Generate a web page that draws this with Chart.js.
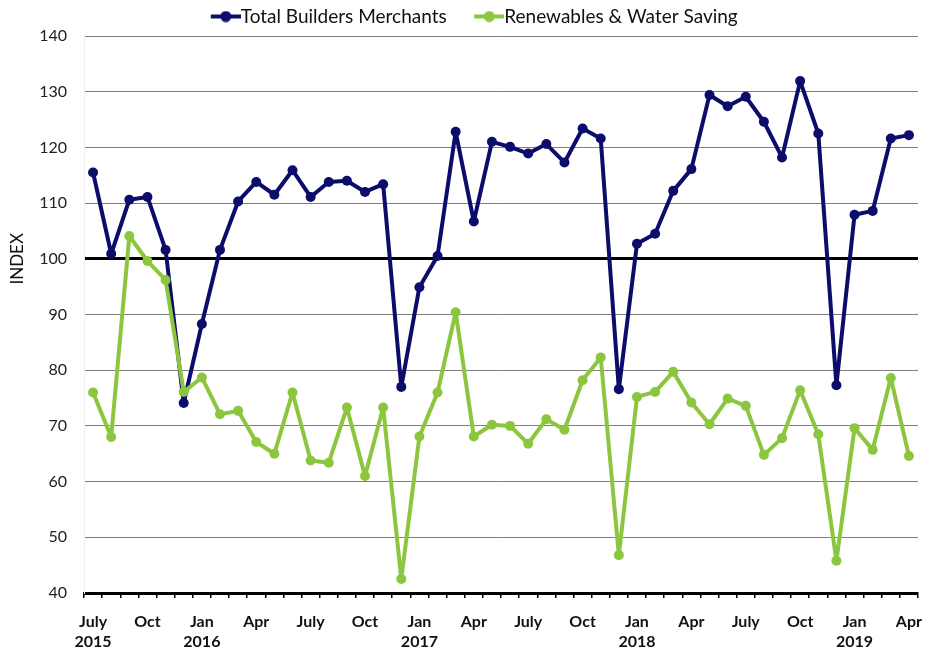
<!DOCTYPE html>
<html>
<head>
<meta charset="utf-8">
<script src="https://cdn.jsdelivr.net/npm/chart.js@4.4.1/dist/chart.umd.min.js"></script>
<style>
  html, body { margin: 0; padding: 0; background: #fff; }
  #wrap { width: 925px; height: 651px; }
</style>
</head>
<body>
<div id="wrap"><canvas id="chart"></canvas></div>
<script>
// month categories, July 2015 .. April 2019
const months = [
  'Jul 2015','Aug 2015','Sep 2015','Oct 2015','Nov 2015','Dec 2015',
  'Jan 2016','Feb 2016','Mar 2016','Apr 2016','May 2016','Jun 2016',
  'Jul 2016','Aug 2016','Sep 2016','Oct 2016','Nov 2016','Dec 2016',
  'Jan 2017','Feb 2017','Mar 2017','Apr 2017','May 2017','Jun 2017',
  'Jul 2017','Aug 2017','Sep 2017','Oct 2017','Nov 2017','Dec 2017',
  'Jan 2018','Feb 2018','Mar 2018','Apr 2018','May 2018','Jun 2018',
  'Jul 2018','Aug 2018','Sep 2018','Oct 2018','Nov 2018','Dec 2018',
  'Jan 2019','Feb 2019','Mar 2019','Apr 2019'
];

// what is printed under the axis (one entry per month)
const tickLabels = [
  ['July','2015'],'','','Oct','','',
  ['Jan','2016'],'','','Apr','','',
  'July','','','Oct','','',
  ['Jan','2017'],'','','Apr','','',
  'July','','','Oct','','',
  ['Jan','2018'],'','','Apr','','',
  'July','','','Oct','','',
  ['Jan','2019'],'','','Apr'
];

const totalBuilders = [
  115.5, 100.9, 110.6, 111.1, 101.6, 74.1,
  88.3, 101.6, 110.3, 113.8, 111.5, 115.9,
  111.1, 113.8, 114.0, 112.0, 113.4, 77.0,
  94.9, 100.5, 122.8, 106.7, 121.0, 120.1,
  118.9, 120.6, 117.3, 123.4, 121.6, 76.6,
  102.7, 104.5, 112.2, 116.1, 129.4, 127.4,
  129.1, 124.6, 118.2, 131.9, 122.5, 77.3,
  107.9, 108.6, 121.6, 122.2
];

const renewables = [
  76.0, 68.0, 104.1, 99.6, 96.2, 76.1,
  78.7, 72.1, 72.7, 67.1, 65.0, 76.0,
  63.8, 63.4, 73.3, 61.0, 73.3, 42.5,
  68.1, 76.0, 90.4, 68.1, 70.2, 70.0,
  66.8, 71.2, 69.3, 78.2, 82.3, 46.8,
  75.2, 76.1, 79.7, 74.2, 70.3, 74.9,
  73.6, 64.8, 67.8, 76.4, 68.5, 45.8,
  69.6, 65.7, 78.6, 64.6
];

const yTicks = [40, 50, 60, 70, 80, 90, 100, 110, 120, 130, 140];

const NAVY = '#0c0c6a';
const GREEN = '#8cc63f';
const FONT = 'Lato, "Liberation Sans", sans-serif';

/** legend swatch: short line with a dot, drawn in the right part of a wider canvas */
function swatch(color) {
  const c = document.createElement('canvas');
  c.width = 60; c.height = 12;
  const g = c.getContext('2d');
  g.strokeStyle = color;
  g.lineWidth = 4;
  g.beginPath(); g.moveTo(30, 6); g.lineTo(60, 6); g.stroke();
  g.fillStyle = color;
  g.beginPath(); g.arc(45, 6, 5.5, 0, Math.PI * 2); g.fill();
  return c;
}

/** y axis title, centred on the 100 line like the original */
const indexTitle = {
  id: 'indexTitle',
  afterDraw(chart) {
    const ctx = chart.ctx;
    const y = chart.scales.y.getPixelForValue(100);
    ctx.save();
    ctx.translate(18, y);
    ctx.rotate(-Math.PI / 2);
    ctx.font = '17px ' + FONT;
    ctx.fillStyle = '#111';
    ctx.textAlign = 'center';
    ctx.textBaseline = 'middle';
    ctx.fillText('INDEX', 0, 0);
    ctx.restore();
  }
};

const navyIcon = swatch(NAVY);
const greenIcon = swatch(GREEN);

new Chart(document.getElementById('chart'), {
  type: 'line',
  data: {
    labels: months,
    datasets: [
      {
        label: 'Total Builders Merchants',
        data: totalBuilders,
        borderColor: NAVY,
        backgroundColor: NAVY,
        borderWidth: 4,
        borderJoinStyle: 'round',
        borderCapStyle: 'round',
        pointRadius: 5,
        pointHoverRadius: 5,
        pointBorderWidth: 0,
        tension: 0,
        order: 2
      },
      {
        label: 'Renewables & Water Saving',
        data: renewables,
        borderColor: GREEN,
        backgroundColor: GREEN,
        borderWidth: 4,
        borderJoinStyle: 'round',
        borderCapStyle: 'round',
        pointRadius: 5,
        pointHoverRadius: 5,
        pointBorderWidth: 0,
        tension: 0,
        order: 1
      }
    ]
  },
  options: {
    responsive: true,
    maintainAspectRatio: false,
    animation: false,
    layout: { padding: { left: 10, right: 7, top: 0, bottom: 0 } },
    plugins: {
      tooltip: { enabled: false },
      legend: {
        position: 'top',
        labels: {
          usePointStyle: true,
          pointStyleWidth: 41,
          padding: 7,
          color: '#111',
          font: { family: FONT, size: 19 },
          sort: (a, b) => a.datasetIndex - b.datasetIndex,
          generateLabels(chart) {
            return chart.data.datasets.map((ds, i) => ({
              text: ds.label,
              datasetIndex: i,
              pointStyle: i === 0 ? navyIcon : greenIcon,
              fontColor: '#111',
              hidden: false,
              lineWidth: 0
            }));
          }
        }
      }
    },
    scales: {
      x: {
        offset: true,
        afterFit(scale) {
          scale.height = 58;
          // labels may hang past the ends, as in the original
          scale.paddingLeft = 0;
          scale.paddingRight = 0;
        },
        border: { display: true, color: '#000', width: 3 },
        grid: {
          offset: true,
          drawOnChartArea: false,
          drawTicks: true,
          tickLength: 5,
          color: '#000',
          lineWidth: 1.5
        },
        ticks: {
          autoSkip: false,
          maxRotation: 0,
          padding: 13,
          color: '#111',
          font: { family: FONT, size: 16, weight: 'bold', lineHeight: 1.3 },
          callback: (v, i) => tickLabels[i]
        }
      },
      y: {
        min: 40,
        max: 140,
        afterFit(scale) { scale.width = 74; },
        afterBuildTicks(scale) { scale.ticks = yTicks.map(v => ({ value: v })); },
        border: { display: true, color: '#eeeeee', width: 1 },
        grid: {
          drawTicks: false,
          color: ctx => ctx.tick && ctx.tick.value === 100 ? '#000' : '#7f7f7f',
          lineWidth: ctx => ctx.tick && ctx.tick.value === 100 ? 3 : 1
        },
        ticks: {
          padding: 17,
          color: '#222',
          font: { family: FONT, size: 16 }
        }
      }
    }
  },
  plugins: [indexTitle]
});
</script>
</body>
</html>
